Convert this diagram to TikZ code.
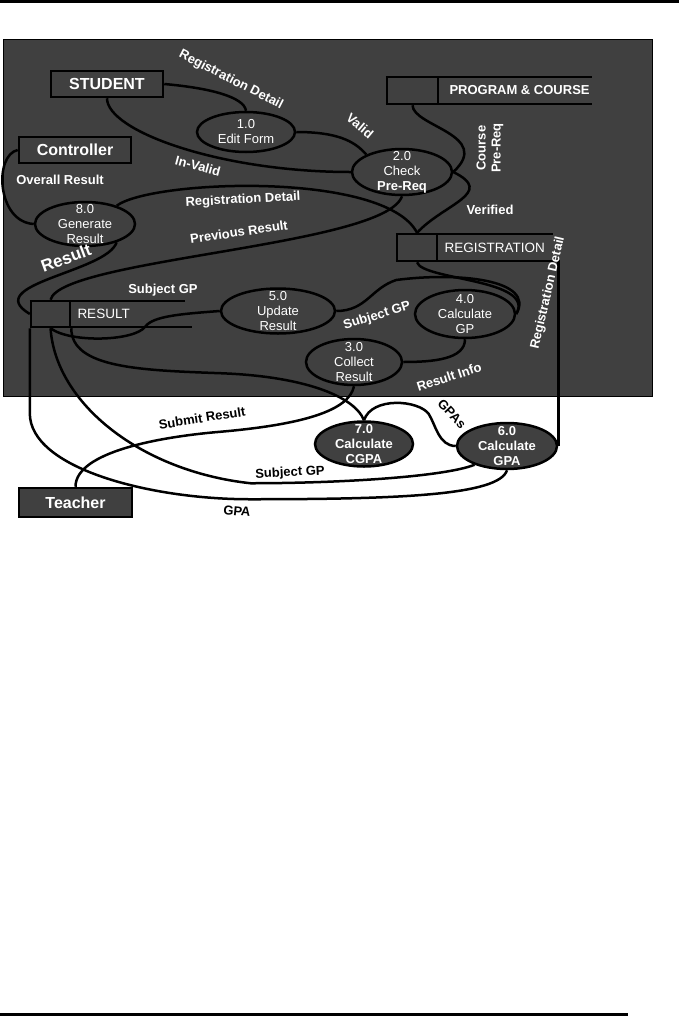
\documentclass[tikz,border=0pt]{standalone}
\usepackage{fontspec}
\setmainfont{Liberation Sans}
\usetikzlibrary{shapes.geometric, positioning}
\definecolor{panel}{gray}{0.25}

\begin{document}
\begin{tikzpicture}[x=1pt, y=-1pt, font=\fontsize{13}{15}\selectfont]
    \tikzstyle{box} = [rectangle, draw=black, line width=2.5pt, fill=panel, text=white, font=\fontsize{16}{18}\selectfont\bfseries, minimum width=112pt, minimum height=26pt, inner sep=0pt]
    \tikzstyle{proc} = [ellipse, draw=black, line width=2.5pt, fill=panel, inner sep=0pt]
    \tikzstyle{ptext} = [text=white, align=center, inner sep=0pt]
    \tikzstyle{store} = [rectangle, minimum height=27pt, inner sep=0pt]
    \tikzstyle{storeid} = [rectangle, draw=black, line width=2.5pt, fill=panel, minimum height=27pt, inner sep=0pt, anchor=west]
    \tikzstyle{storetext} = [text=white, font=\fontsize{13.5}{15}\selectfont, inner sep=0pt]
    \tikzstyle{flow} = [draw=black, line width=2.5pt]
    \tikzstyle{flowlbl} = [text=white, font=\fontsize{13}{15}\selectfont\bfseries, inner sep=0pt, align=center]
    \tikzstyle{outlbl} = [flowlbl, text=black]

    \useasboundingbox (0,0) rectangle (679,1018);
    % page rules and panel
    \draw[line width=3pt] (0,1.5) -- (679,1.5);
    \draw[line width=3pt] (0,1014) -- (628,1014);
    \filldraw[fill=panel, draw=black, line width=0.8pt] (3,39) rectangle (652,396);

    % Entities
    \node (stu) [box] at (107,84) {STUDENT};
    \node (ctl) [box] at (75,150) {Controller};
    \node (tch) [box, minimum width=113pt, minimum height=29pt] at (75.5,502.5) {Teacher};

    % Data stores
    \node (pgc) [store, minimum width=206pt] at (489,90.5) {};
    \node (pgcid) [storeid, minimum width=51pt] at (pgc.west) {};
    \node (pgctxt) [storetext, font=\fontsize{13}{15}\selectfont\bfseries, right=10pt of pgcid] {PROGRAM \& COURSE};
    \draw [flow] (pgc.north west) -- (pgc.north east) (pgc.south west) -- (pgc.south east);

    \node (reg) [store, minimum width=157pt] at (474.5,247.5) {};
    \node (regid) [storeid, minimum width=40pt] at (reg.west) {};
    \node (regtxt) [storetext, right=6pt of regid] {REGISTRATION};
    \draw [flow] (reg.north west) -- (reg.north east) (reg.south west) -- (reg.south east);

    \node (res) [store, minimum width=155pt, minimum height=26pt] at (107.5,314) {};
    \node (resid) [storeid, minimum width=39pt, minimum height=26pt] at (res.west) {};
    \node (restxt) [storetext, right=6pt of resid] {RESULT};
    \draw [flow] (res.north west) -- (res.north east) (res.south west) -- ([xshift=7pt]res.south east);

    % Processes
    \node (p1) [proc, minimum width=98pt, minimum height=40pt] at (246,132) {};
    \node (p1t) [ptext] at (p1) {1.0\\Edit Form};
    \node (p2) [proc, minimum width=100pt, minimum height=46pt] at (402,172) {};
    \node (p2t) [ptext] at (p2) {2.0\\Check\\\textbf{Pre-Req}};
    \node (p3) [proc, minimum width=96pt, minimum height=46pt] at (354,362) {};
    \node (p3t) [ptext] at (p3) {3.0\\Collect\\Result};
    \node (p4) [proc, minimum width=100pt, minimum height=48pt] at (465,314) {};
    \node (p4t) [ptext] at (p4) {4.0\\Calculate\\GP};
    \node (p5) [proc, minimum width=114pt, minimum height=45pt] at (278,311) {};
    \node (p5t) [ptext] at (p5) {5.0\\Update\\Result};
    \node (p6) [proc, minimum width=100pt, minimum height=46pt] at (507,446) {};
    \node (p6t) [ptext, font=\fontsize{13}{15}\selectfont\bfseries] at (p6) {6.0\\Calculate\\GPA};
    \node (p7) [proc, minimum width=98pt, minimum height=45pt] at (364,444) {};
    \node (p7t) [ptext, font=\fontsize{13}{15}\selectfont\bfseries] at (p7) {7.0\\Calculate\\CGPA};
    \node (p8) [proc, minimum width=100pt, minimum height=44pt] at (85,224) {};
    \node (p8t) [ptext] at (p8) {8.0\\Generate\\Result};

    % Flows
    \draw [flow] (stu.east) .. controls +(45,4) and +(-2,-14) .. (p1.north);
    \draw [flow] (stu.south) .. controls +(0,33) and +(-130,0) .. (p2.west);
    \draw [flow] (p1.east) .. controls +(40,0) and +(-12,-14) .. (p2.154);
    \draw [flow] (pgcid.south) .. controls +(0,21) and +(40,-37) .. (p2.east);
    \draw [flow] (p2.east) .. controls +(43,21) and +(27,-29) .. (regid.north);
    \draw [flow] (p8.30) .. controls +(35,-26) and +(-32,-62) .. (regid.north);
    \draw [flow] (resid.north) .. controls +(10,-41) and +(-17,50) .. (p2.south);
    \draw [flow] (ctl.west) .. controls +(-24,5) and +(-37,-2) .. (p8.west);
    \draw [flow] (p8.-30) .. controls +(-10,30) and +(-50,-30) .. (resid.west);
    \draw [flow] (resid.south west) -- ++(0,85) .. controls +(0,55) and +(-100,0) .. ++(220,86) .. controls +(150,0) and +(-8,25) .. (p6.south);
    \draw [flow] (resid.south) .. controls +(5,75) and +(-110,-12) .. ++(200,155) .. controls +(90,0) and +(-30,12) .. (p6.-150);
    \draw [flow] (resid.south) .. controls +(20,15) and +(-10,15) .. ++(95,-2) .. controls +(8,-10) and +(-40,3) .. (p5.west);
    \draw [flow] (resid.south east) .. controls +(0,40) and +(-80,-3) .. ++(150,45) .. controls +(80,3) and +(-10,-25) .. (p7.north);
    \draw [flow] (tch.north) .. controls +(0,-35) and +(-60,5) .. ++(145,-55) .. controls +(80,-7) and +(-5,25) .. (p3.south);
    \draw [flow] (p5.east) .. controls +(30,0) and +(-25,8) .. ++(60,-31) .. controls +(60,-8) and +(20,-35) .. (p4.east);
    \draw [flow] (regid.south) .. controls +(5,18) and +(20,-35) .. (p4.east);
    \draw [flow] (p4.south) .. controls +(0,20) and +(30,0) .. (p3.east);
    \draw [flow] (reg.south east) -| (p6.east);
    \draw [flow] (p6.west) .. controls +(-17,0) and +(7,11) .. ++(-27,-32) .. controls +(-10,-14) and +(8,-24) .. (p7.north);

    % Flow labels
    \node (lRegDet1) [flowlbl, rotate=-27] at (231,80) {Registration Detail};
    \node (lValid) [flowlbl, rotate=-40] at (360,126) {Valid};
    \node (lInvalid) [flowlbl, rotate=-15] at (198,166) {In-Valid};
    \node (lCourse) [flowlbl, rotate=90] at (490,148) {Course\\Pre-Req};
    \node (lVerified) [flowlbl] at (490,210) {Verified};
    \node (lOverall) [flowlbl] at (60,180) {Overall Result};
    \node (lRegDet2) [flowlbl, rotate=3] at (243,200) {Registration Detail};
    \node (lPrev) [flowlbl, rotate=8] at (239,232) {Previous Result};
    \node (lResult) [flowlbl, font=\fontsize{17}{19}\selectfont\bfseries, rotate=20] at (66,258) {Result};
    \node (lSubGP1) [flowlbl] at (163,290) {Subject GP};
    \node (lSubGP2) [flowlbl, rotate=17] at (377,316) {Subject GP};
    \node (lRegDet3) [flowlbl, rotate=77] at (548,293) {Registration Detail};
    \node (lResInfo) [flowlbl, rotate=18] at (449,377) {Result Info};
    \node (lGPAs) [outlbl, rotate=-47] at (452,414) {GPAs};
    \node (lSubmit) [outlbl, rotate=9] at (202,418) {Submit Result};
    \node (lSubGP3) [outlbl, rotate=3] at (290,473) {Subject GP};
    \node (lGPA) [outlbl, rotate=-6] at (237,511) {GPA};
\end{tikzpicture}
\end{document}
